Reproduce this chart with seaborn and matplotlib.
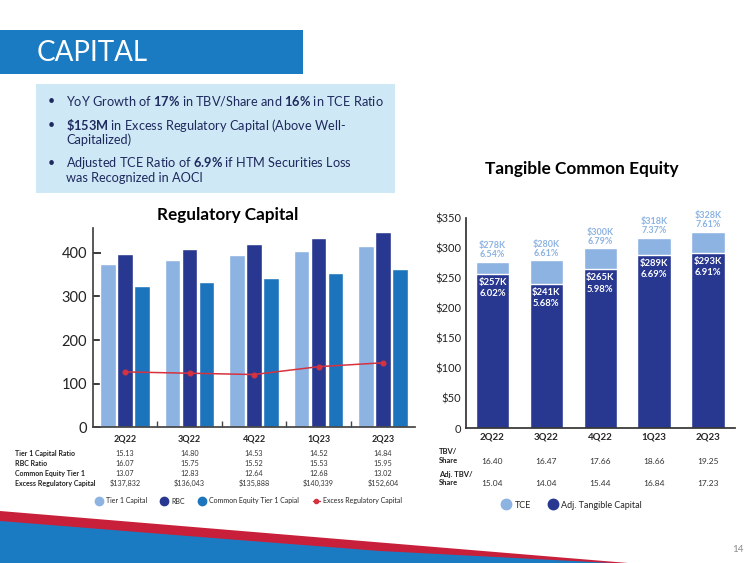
import matplotlib
matplotlib.use('Agg')
import numpy as np
import pandas as pd
import seaborn as sns
from matplotlib import pyplot as plt
from matplotlib import transforms
from matplotlib.lines import Line2D
from matplotlib.patches import Rectangle, Polygon

quarters = ['2Q22', '3Q22', '4Q22', '1Q23', '2Q23']

# Regulatory Capital (bar heights)
tier1_capital = [374, 383, 394, 405, 416]
rbc = [398, 408, 421, 434, 447]
cet1_capital = [323, 333, 342, 354, 364]
excess_capital = [127, 124, 121, 139, 148]

tier1_ratio = ['15.13', '14.80', '14.53', '14.52', '14.84']
rbc_ratio = ['16.07', '15.75', '15.52', '15.53', '15.95']
cet1_ratio = ['13.07', '12.83', '12.64', '12.68', '13.02']
excess_text = ['$137,832', '$136,043', '$135,888', '$140,339', '$152,604']

# Tangible Common Equity ($K)
tce = [278, 280, 300, 318, 328]
tce_ratio = ['6.54%', '6.61%', '6.79%', '7.37%', '7.61%']
adj_tce = [257, 241, 265, 289, 293]
adj_tce_ratio = ['6.02%', '5.68%', '5.98%', '6.69%', '6.91%']
tbv_share = ['16.40', '16.47', '17.66', '18.66', '19.25']
adj_tbv_share = ['15.04', '14.04', '15.44', '16.84', '17.23']

LIGHT = '#8db3e2'
NAVY = '#283891'
MID = '#1c75bc'
RED = '#d6323f'
BANNER = '#1b7bc2'
BOX = '#cfe8f5'
TEXT = '#1e2a5e'
STRIPE = '#c8203a'

sns.set_theme(style='ticks')
plt.rcParams['font.family'] = ['Lato', 'DejaVu Sans']
plt.rcParams['mathtext.fontset'] = 'custom'
plt.rcParams['mathtext.rm'] = 'Lato'
plt.rcParams['mathtext.bf'] = 'Lato:bold'

W, H = 750, 563
fig = plt.figure(figsize=(7.5, 5.63), dpi=100)


def fx(x):
    return x / W


def fy(y):
    return 1 - y / H


# header banner + bullet box
fig.add_artist(Rectangle((0, fy(74)), fx(303), 44 / H, transform=fig.transFigure, color=BANNER, lw=0))
fig.text(fx(37), fy(53), 'CAPITAL', ha='left', va='center', size=20, color='white')
fig.add_artist(Rectangle((fx(36), fy(193)), fx(359), 109 / H, transform=fig.transFigure, color=BOX, lw=0))

bullets = [
    [r'YoY Growth of $\mathbf{17\%}$ in TBV/Share and $\mathbf{16\%}$ in TCE Ratio'],
    [r'$\mathbf{\$153M}$ in Excess Regulatory Capital (Above Well-', 'Capitalized)'],
    [r'Adjusted TCE Ratio of $\mathbf{6.9\%}$ if HTM Securities Loss', 'was Recognized in AOCI'],
]
bullet_y = [101, 125, 163]
for y0, lines in zip(bullet_y, bullets):
    fig.text(fx(48), fy(y0), '\u2022', ha='left', va='center', size=9, color=TEXT)
    for k, line in enumerate(lines):
        fig.text(fx(66), fy(y0 + 15 * k), line, ha='left', va='center', size=9.2, color=TEXT)

# ---------------- Regulatory Capital ----------------
ax1 = fig.add_axes([fx(92.75), fy(427.3), fx(322.5), (427.3 - 228) / H])
reg = pd.DataFrame({
    'quarter': quarters * 3,
    'value': tier1_capital + rbc + cet1_capital,
    'series': ['Tier 1 Capital'] * 5 + ['RBC'] * 5 + ['Common Equity Tier 1 Capial'] * 5,
})
sns.barplot(data=reg, x='quarter', y='value', hue='series', palette=[LIGHT, NAVY, MID],
            width=0.79, gap=0.09, saturation=1, legend=False, ax=ax1)
sns.pointplot(x=quarters, y=excess_capital, color=RED, markers='o', markersize=3.5,
              linewidth=1.1, ax=ax1)
sns.despine(ax=ax1)
ax1.set_xlim(-0.5, 4.5)
ax1.set_ylim(0, 457)
ax1.set_yticks([0, 100, 200, 300, 400])
ax1.set_xlabel('')
ax1.set_ylabel('')
ax1.set_xticks(np.arange(0.5, 4, 1), minor=True)
ax1.tick_params(axis='y', direction='in', length=6, labelsize=10.5, colors='#222222', pad=4)
ax1.tick_params(axis='x', which='major', length=0, labelsize=6.5, pad=5)
ax1.tick_params(axis='x', which='minor', direction='in', length=4, color='#444444')
for t in ax1.get_xticklabels():
    t.set_fontweight('bold')
for s in ax1.spines.values():
    s.set_color('#444444')
fig.text(fx(228), fy(215), 'Regulatory Capital', ha='center', va='center', size=12.3,
         weight='bold', color='black')

tr1 = transforms.blended_transform_factory(ax1.transData, fig.transFigure)
row_names = ['Tier 1 Capital Ratio', 'RBC Ratio', 'Common Equity Tier 1', 'Excess Regulatory Capital']
row_vals = [tier1_ratio, rbc_ratio, cet1_ratio, excess_text]
for k, (name, vals) in enumerate(zip(row_names, row_vals)):
    yy = 453.3 + 10 * k
    fig.text(fx(15), fy(yy), name, ha='left', va='center', size=5.0, weight='bold', color='#222222')
    for i, v in enumerate(vals):
        ax1.text(i, fy(yy), v, transform=tr1, ha='center', va='center', size=5.2, color='#333333')

reg_handles = [Line2D([], [], ls='', marker='o', ms=6, color=c) for c in (LIGHT, NAVY, MID)]
reg_handles.append(Line2D([], [], color=RED, marker='o', ms=3, lw=1))
fig.legend(reg_handles, ['Tier 1 Capital', 'RBC', 'Common Equity Tier 1 Capial', 'Excess Regulatory Capital'],
           loc='center', bbox_to_anchor=(fx(249), fy(501)), ncol=4, frameon=False, fontsize=5,
           handlelength=1.0, handletextpad=0.5, columnspacing=2.0)

# ---------------- Tangible Common Equity ----------------
ax2 = fig.add_axes([fx(465.5), fy(428.3), fx(269.5), 210 / H])
sns.barplot(x=quarters, y=tce, color=LIGHT, width=0.62, saturation=1, ax=ax2)
sns.barplot(x=quarters, y=adj_tce, color=NAVY, width=0.62, saturation=1, ax=ax2)
sns.despine(ax=ax2)
ax2.set_xlim(-0.5, 4.5)
ax2.set_ylim(0, 350)
ax2.set_yticks(np.arange(0, 351, 50))
ax2.yaxis.set_major_formatter(lambda v, p: '0' if v == 0 else f'${v:.0f}')
ax2.tick_params(axis='y', length=0, labelsize=8, colors='#222222', pad=3)
ax2.tick_params(axis='x', length=0, labelsize=7, pad=3)
for t in ax2.get_xticklabels():
    t.set_fontweight('bold')
for s in ax2.spines.values():
    s.set_color('#333333')

for i in range(len(quarters)):
    ax2.annotate(f'${tce[i]}K\n{tce_ratio[i]}', xy=(i, tce[i]), xytext=(0, 2),
                 textcoords='offset points', ha='center', va='bottom', size=6.5,
                 weight='bold', color=LIGHT, linespacing=0.95)
    ax2.annotate(f'${adj_tce[i]}K\n{adj_tce_ratio[i]}', xy=(i, adj_tce[i]), xytext=(0, -3),
                 textcoords='offset points', ha='center', va='top', size=6.8,
                 weight='bold', color='white', linespacing=1.3)
fig.text(fx(582), fy(169), 'Tangible Common Equity', ha='center', va='center', size=12.4,
         weight='bold', color='black')

tr2 = transforms.blended_transform_factory(ax2.transData, fig.transFigure)
fig.text(fx(439), fy(456), 'TBV/\nShare', ha='left', va='center', size=5.5, weight='bold',
         color='#222222', linespacing=1.3)
fig.text(fx(439), fy(478.5), 'Adj. TBV/\nShare', ha='left', va='center', size=5.5, weight='bold',
         color='#222222', linespacing=1.3)
for i in range(len(quarters)):
    ax2.text(i, fy(461), tbv_share[i], transform=tr2, ha='center', va='center', size=6, color='#333333')
    ax2.text(i, fy(484), adj_tbv_share[i], transform=tr2, ha='center', va='center', size=6, color='#333333')

tce_handles = [Line2D([], [], ls='', marker='o', ms=7.5, color=c) for c in (LIGHT, NAVY)]
fig.legend(tce_handles, ['TCE', 'Adj. Tangible Capital'], loc='center',
           bbox_to_anchor=(fx(572), fy(505)), ncol=2, frameon=False, fontsize=6.5,
           handlelength=1.0, handletextpad=0.4, columnspacing=2.0)

# footer stripes and page number
fig.add_artist(Polygon([(fx(0), fy(511)), (fx(628), fy(563)), (fx(0), fy(563))], closed=True,
                       transform=fig.transFigure, color=STRIPE, lw=0))
fig.add_artist(Polygon([(fx(0), fy(521)), (fx(200), fy(537)), (fx(380), fy(551)), (fx(612), fy(563)),
                        (fx(0), fy(563))], closed=True, transform=fig.transFigure, color=BANNER, lw=0))
fig.text(fx(738), fy(549), '14', ha='center', va='center', size=7, color='#8a8a8a')

fig.savefig('out.png', dpi=100)
